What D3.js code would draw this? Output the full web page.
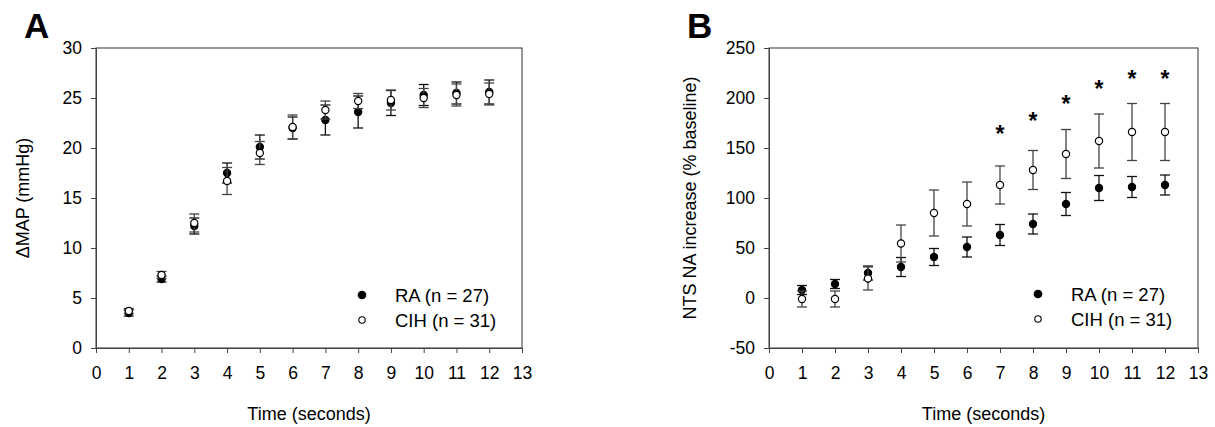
<!DOCTYPE html>
<html>
<head>
<meta charset="utf-8">
<script src="https://cdn.jsdelivr.net/npm/d3@7"></script>
<style>
  html, body { margin: 0; padding: 0; background: #fff; }
  svg { display: block; font-family: "Liberation Sans", Arial, sans-serif; }
</style>
</head>
<body>
<svg id="fig" width="1215" height="427"></svg>
<script>
// Time points (seconds)
const times = [1, 2, 3, 4, 5, 6, 7, 8, 9, 10, 11, 12];
const xTicks = [0, 1, 2, 3, 4, 5, 6, 7, 8, 9, 10, 11, 12, 13];

// Panel A: change in mean arterial pressure (mmHg), mean ± SEM
const mapRA     = [3.5, 6.9, 12.2, 17.5, 20.1, 22.0, 22.8, 23.6, 24.5, 25.3, 25.5, 25.6];
const mapRAErr  = [0.3, 0.3, 0.8, 1.0, 1.2, 1.1, 1.5, 1.6, 1.25, 1.05, 1.1, 1.2];
const mapCIH    = [3.7, 7.3, 12.5, 16.7, 19.5, 22.1, 23.8, 24.7, 24.8, 25.0, 25.3, 25.4];
const mapCIHErr = [0.25, 0.35, 0.9, 1.35, 1.15, 1.2, 0.9, 0.75, 1.0, 0.95, 1.1, 1.1];
const mapTicks  = [0, 5, 10, 15, 20, 25, 30];

// Panel B: NTS noradrenaline increase (% baseline), mean ± SEM
const naRA      = [8, 14, 25, 31, 41, 51, 63, 74, 94, 110, 111, 113];
const naRAErr   = [4.5, 4.5, 7, 9.5, 8.5, 10, 10.5, 10, 11.5, 12.5, 10.5, 10];
const naCIH     = [-1, -1, 19.5, 54.5, 85, 94, 113, 128, 144, 157, 166, 166];
const naCIHErr  = [8, 8, 11.5, 18.5, 23, 22, 19, 19.5, 24.5, 27, 28.5, 28.5];
const naTicks   = [-50, 0, 50, 100, 150, 200, 250];

// Significance markers (time, level in % baseline)
const sigTimes  = [7, 8, 9, 10, 11, 12];
const sigLevels = [169, 182, 199, 214, 224, 224];

const legendLabels = ["RA (n = 27)", "CIH (n = 31)"];

const svg = d3.select("#fig");

function panel(opts) {
  const x = d3.scaleLinear().domain([0, 13]).range([opts.left, opts.right]);
  const y = d3.scaleLinear().domain(opts.yDomain).range([348, 48]);
  const g = svg.append("g");

  // frame
  g.append("rect")
    .attr("x", opts.left).attr("y", 48)
    .attr("width", opts.right - opts.left).attr("height", 300)
    .attr("fill", "none").attr("stroke", "#333").attr("stroke-width", 1);

  // plain hyphen for negatives, as in the printed figure
  const fmt = d => String(d);

  // x axis
  const xa = g.append("g")
    .attr("transform", `translate(0,348)`)
    .call(d3.axisBottom(x).tickValues(xTicks).tickFormat(fmt)
      .tickSize(5).tickSizeOuter(0).tickPadding(14));
  // y axis
  const ya = g.append("g")
    .attr("transform", `translate(${opts.left},0)`)
    .call(d3.axisLeft(y).tickValues(opts.yTicks).tickFormat(fmt)
      .tickSize(5).tickSizeOuter(0).tickPadding(9));
  [xa, ya].forEach(a => {
    a.selectAll("path.domain").attr("stroke", "#444");
    a.selectAll(".tick line").attr("stroke", "#444");
    a.selectAll(".tick text").attr("fill", "#000")
      .style("font-size", "17.5px").style("font-family", "'Liberation Sans', Arial, sans-serif");
  });

  // axis titles
  g.append("text")
    .attr("x", (opts.left + opts.right) / 2).attr("y", 420)
    .attr("text-anchor", "middle").style("font-size", "18px")
    .text("Time (seconds)");
  g.append("text")
    .attr("transform", `translate(${opts.yTitleX},198) rotate(-90)`)
    .attr("text-anchor", "middle").style("font-size", "18px")
    .text(opts.yTitle);

  // panel letter
  g.append("text")
    .attr("x", opts.letterX).attr("y", 38)
    .style("font-size", "35px").style("font-weight", "bold")
    .text(opts.letter);

  // series
  const series = [
    { vals: opts.ra, errs: opts.raErr, fill: "#000", bar: "#111" },
    { vals: opts.cih, errs: opts.cihErr, fill: "#fff", bar: "#444" }
  ];
  series.forEach(s => {
    const pts = times.map((t, i) => ({ t, v: s.vals[i], e: s.errs[i] }));
    const eg = g.append("g").attr("stroke", s.bar).attr("stroke-width", 1.3).attr("fill", "none");
    pts.forEach(p => {
      const cx = x(p.t);
      eg.append("line").attr("x1", cx).attr("x2", cx).attr("y1", y(p.v - p.e)).attr("y2", y(p.v + p.e));
      eg.append("line").attr("x1", cx - 5).attr("x2", cx + 5).attr("y1", y(p.v + p.e)).attr("y2", y(p.v + p.e));
      eg.append("line").attr("x1", cx - 5).attr("x2", cx + 5).attr("y1", y(p.v - p.e)).attr("y2", y(p.v - p.e));
    });
    g.append("g").selectAll("circle").data(pts).join("circle")
      .attr("cx", d => x(d.t)).attr("cy", d => y(d.v)).attr("r", 3.6)
      .attr("fill", s.fill).attr("stroke", "#000").attr("stroke-width", 1.2);
  });

  // significance stars
  if (opts.sig) {
    g.append("g").selectAll("text").data(sigTimes).join("text")
      .attr("x", d => x(d)).attr("y", (d, i) => y(sigLevels[i]))
      .attr("dy", "0.55em").attr("text-anchor", "middle")
      .style("font-size", "23px").style("font-weight", "bold")
      .text("*");
  }

  // legend
  const lg = g.append("g");
  legendLabels.forEach((lab, i) => {
    const cy = opts.legY + i * 25;
    lg.append("circle").attr("cx", opts.legX).attr("cy", cy)
      .attr("r", i === 0 ? 3.8 : 3.2)
      .attr("fill", i === 0 ? "#000" : "#fff").attr("stroke", "#000").attr("stroke-width", 1.1);
    lg.append("text").attr("x", opts.legX + 33).attr("y", cy).attr("dy", "0.36em")
      .style("font-size", "18.5px").text(lab);
  });
}

panel({
  left: 96, right: 522, yDomain: [0, 30], yTicks: mapTicks,
  ra: mapRA, raErr: mapRAErr, cih: mapCIH, cihErr: mapCIHErr,
  yTitle: "\u0394MAP (mmHg)", yTitleX: 29, letter: "A", letterX: 24,
  legX: 362, legY: 295, sig: false
});

panel({
  left: 769, right: 1198, yDomain: [-50, 250], yTicks: naTicks,
  ra: naRA, raErr: naRAErr, cih: naCIH, cihErr: naCIHErr,
  yTitle: "NTS NA increase (% baseline)", yTitleX: 696, letter: "B", letterX: 687,
  legX: 1038, legY: 294, sig: true
});
</script>
</body>
</html>
